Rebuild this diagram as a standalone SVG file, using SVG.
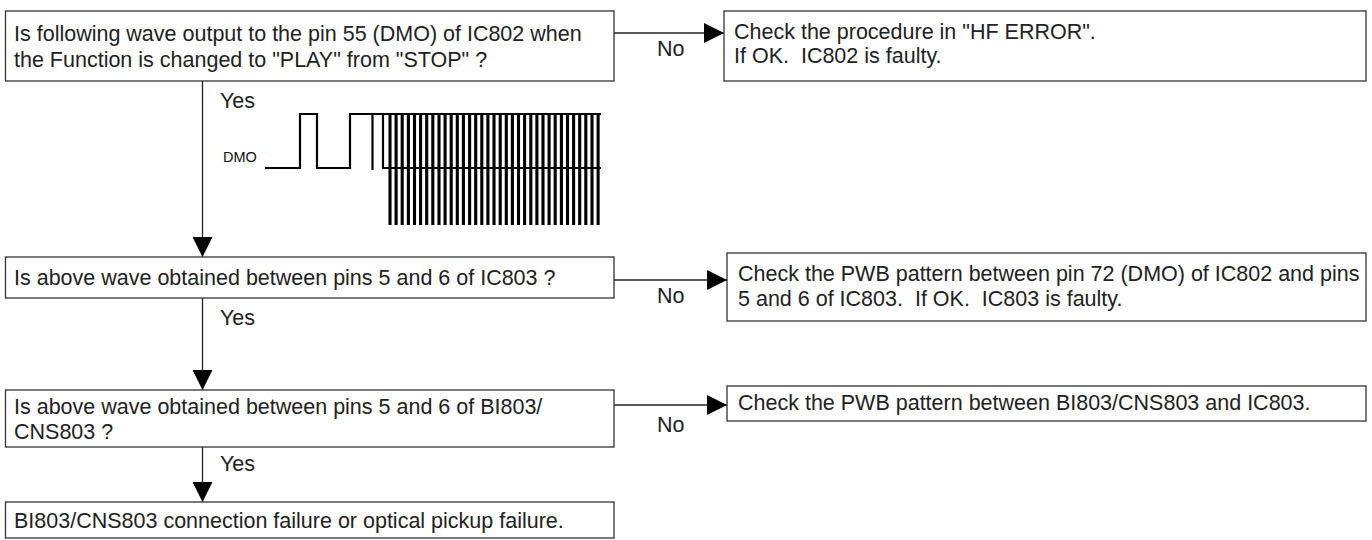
<svg xmlns="http://www.w3.org/2000/svg" width="1372" height="540" viewBox="0 0 1372 540">
<style>
.box{fill:#fff;stroke:#333;stroke-width:1.3}
.t{font-family:"Liberation Sans",Arial,sans-serif;font-size:21.5px;fill:#222;white-space:pre}
.lbl{font-family:"Liberation Sans",Arial,sans-serif;font-size:21.5px;fill:#222}
.dmo{font-family:"Liberation Sans",Arial,sans-serif;font-size:14.5px;fill:#111}
.con{fill:none;stroke:#222;stroke-width:1.3;marker-end:url(#ah)}
.wave{fill:none;stroke:#000;stroke-width:2.2}
.bars{fill:none;stroke:#000;stroke-width:3.1}
</style>
<defs>
<marker id="ah" markerUnits="userSpaceOnUse" markerWidth="20" markerHeight="20" refX="20" refY="10" orient="auto" viewBox="0 0 20 20">
<path d="M0,0 L20,10 L0,20 z" fill="#000"/>
</marker>
</defs>
<rect width="1372" height="540" fill="#fff"/>
<g id="connectors">
<path class="con" d="M614 33 H724"/>
<path class="con" d="M202.5 81 V257"/>
<path class="con" d="M614 280 H727"/>
<path class="con" d="M202.5 298 V390"/>
<path class="con" d="M614 405 H727"/>
<path class="con" d="M202.5 447 V502"/>
<text class="lbl" x="657" y="56">No</text>
<text class="lbl" x="220" y="108">Yes</text>
<text class="lbl" x="657" y="303">No</text>
<text class="lbl" x="220" y="325">Yes</text>
<text class="lbl" x="657" y="432">No</text>
<text class="lbl" x="220" y="471">Yes</text>
</g>
<g id="q1">
<rect class="box" x="5.5" y="11" width="608.5" height="70"/>
<text class="t" x="14" y="41" xml:space="preserve">Is following wave output to the pin 55 (DMO) of IC802 when</text>
<text class="t" x="14" y="67" xml:space="preserve">the Function is changed to "PLAY" from "STOP" ?</text>
</g>
<g id="r1">
<rect class="box" x="724" y="11" width="642" height="70"/>
<text class="t" x="734" y="39" xml:space="preserve">Check the procedure in "HF ERROR".</text>
<text class="t" x="734" y="63" xml:space="preserve">If OK.  IC802 is faulty.</text>
</g>
<g id="waveform">
<text class="dmo" x="223" y="162">DMO</text>
<path class="wave" d="M265 168 H300 V114 H317 V168 H350 V114 H383 V168 H601 M383 114 H601 M372.5 114 V170"/>
<path class="bars" d="M390 114V168M396.1 114V168M402.2 114V168M408.4 114V168M414.5 114V168M420.6 114V168M426.7 114V168M432.8 114V168M439 114V168M445.1 114V168M451.2 114V168M457.3 114V168M463.4 114V168M469.6 114V168M475.7 114V168M481.8 114V168M487.9 114V168M494 114V168M500.2 114V168M506.3 114V168M512.4 114V168M518.5 114V168M524.6 114V168M530.8 114V168M536.9 114V168M543 114V168M549.1 114V168M555.2 114V168M561.4 114V168M567.5 114V168M573.6 114V168M579.7 114V168M585.8 114V168M592 114V168M598.1 114V168"/>
<path class="bars" d="M390 168V225M396.1 168V225M402.2 168V225M408.4 168V225M414.5 168V225M420.6 168V225M426.7 168V225M432.8 168V225M439 168V225M445.1 168V225M451.2 168V225M457.3 168V225M463.4 168V225M469.6 168V225M475.7 168V225M481.8 168V225M487.9 168V225M494 168V225M500.2 168V225M506.3 168V225M512.4 168V225M518.5 168V225M524.6 168V225M530.8 168V225M536.9 168V225M543 168V225M549.1 168V225M555.2 168V225M561.4 168V225M567.5 168V225M573.6 168V225M579.7 168V225M585.8 168V225M592 168V225M598.1 168V225"/>
</g>
<g id="q2">
<rect class="box" x="5.5" y="257" width="608.5" height="41"/>
<text class="t" x="14" y="285" xml:space="preserve">Is above wave obtained between pins 5 and 6 of IC803 ?</text>
</g>
<g id="r2">
<rect class="box" x="727" y="253" width="639" height="68"/>
<text class="t" x="738" y="281" xml:space="preserve">Check the PWB pattern between pin 72 (DMO) of IC802 and pins</text>
<text class="t" x="738" y="306" xml:space="preserve">5 and 6 of IC803.  If OK.  IC803 is faulty.</text>
</g>
<g id="q3">
<rect class="box" x="5.5" y="390" width="608.5" height="57"/>
<text class="t" x="14" y="414" xml:space="preserve">Is above wave obtained between pins 5 and 6 of BI803/</text>
<text class="t" x="14" y="439" xml:space="preserve">CNS803 ?</text>
</g>
<g id="r3">
<rect class="box" x="727" y="386" width="639" height="35"/>
<text class="t" x="738" y="410" xml:space="preserve">Check the PWB pattern between BI803/CNS803 and IC803.</text>
</g>
<g id="end">
<rect class="box" x="5.5" y="502" width="608.5" height="36"/>
<text class="t" x="14" y="528" xml:space="preserve">BI803/CNS803 connection failure or optical pickup failure.</text>
</g>
</svg>
